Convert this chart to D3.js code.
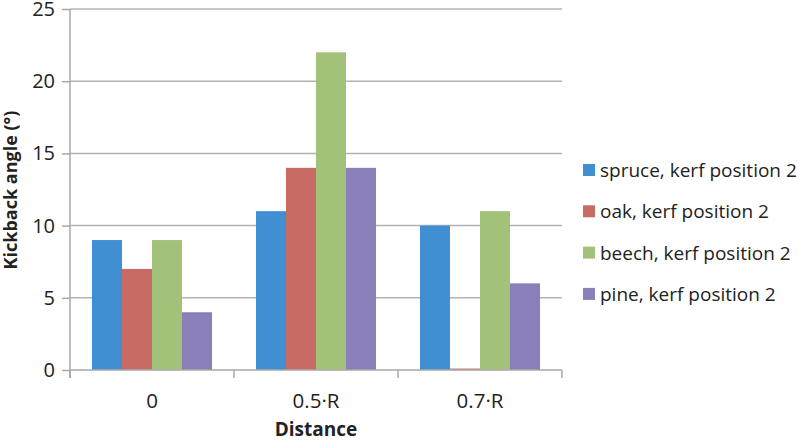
<!DOCTYPE html>
<html><head><meta charset="utf-8">
<script src="https://cdn.jsdelivr.net/npm/d3@7"></script>
<style>body{margin:0;background:#fff}svg{display:block}text{font-family:"Open Sans",sans-serif;fill:#222}</style>
</head><body><svg id="c" width="799" height="440"></svg>
<script>
const categories = ["0", "0.5·R", "0.7·R"];
const seriesNames = ["spruce, kerf position 2", "oak, kerf position 2", "beech, kerf position 2", "pine, kerf position 2"];
const spruce = [9, 11, 10];
const oak = [7, 14, 0.1];
const beech = [9, 22, 11];
const pine = [4, 14, 6];
const yTicks = [0, 5, 10, 15, 20, 25];
const colors = ["#418fd3", "#c86b64", "#a2c279", "#8a7fb8"];
const seriesValues = [spruce, oak, beech, pine];

const svg = d3.select("#c");
const L = 70, R = 562, T = 9, B = 370;
const x0 = d3.scaleBand().domain(categories).range([L, R]).padding(0);
const bw = x0.bandwidth();
const gap = bw * 0.134;
const x1 = d3.scaleBand().domain(seriesNames).range([gap, bw - gap]).padding(0);
const y = d3.scaleLinear().domain([0, 25]).range([B, T]);

// gridlines
svg.append("g").selectAll("line").data(yTicks.filter(d => d > 0)).join("line")
  .attr("x1", L).attr("x2", R).attr("y1", d => y(d)).attr("y2", d => y(d))
  .attr("stroke", "#b3b3b3").attr("stroke-width", 1.5);

// bars
const g = svg.append("g");
seriesNames.forEach((s, si) => {
  g.append("g").selectAll("rect").data(categories).join("rect")
    .attr("x", (c) => x0(c) + x1(s))
    .attr("width", x1.bandwidth())
    .attr("y", (c, i) => y(seriesValues[si][i]))
    .attr("height", (c, i) => y(0) - y(seriesValues[si][i]))
    .attr("fill", colors[si]);
});

// y axis
const yAxis = d3.axisLeft(y).tickValues(yTicks).tickSize(8).tickPadding(7);
const ya = svg.append("g").attr("transform", `translate(${L},0)`).call(yAxis);
ya.select(".domain").attr("stroke", "#a8a8a8").attr("stroke-width", 1.5).attr("d", `M0,${T}V${B+8}`);
ya.selectAll(".tick line").attr("stroke", "#a8a8a8").attr("stroke-width", 1.5);
ya.selectAll(".tick text").attr("font-size", 20).attr("font-family", "Open Sans").attr("fill", "#222");

// x axis
const xa = svg.append("g").attr("transform", `translate(0,${B})`);
xa.append("line").attr("x1", L).attr("x2", R).attr("y1", 0).attr("y2", 0).attr("stroke", "#a8a8a8").attr("stroke-width", 1.5);
const bounds = categories.map(c => x0(c)).concat([R]);
xa.selectAll(".bt").data(bounds).join("line").attr("class", "bt")
  .attr("x1", d => d).attr("x2", d => d).attr("y1", 0).attr("y2", 8)
  .attr("stroke", "#a8a8a8").attr("stroke-width", 1.5);
xa.selectAll(".lbl").data(categories).join("text").attr("class", "lbl")
  .attr("x", d => x0(d) + bw / 2).attr("y", 38).attr("text-anchor", "middle")
  .attr("font-size", 20.5).text(d => d);

// axis titles
svg.append("text").attr("x", (L + R) / 2).attr("y", 436).attr("text-anchor", "middle")
  .attr("font-size", 19).attr("font-weight", "bold").text("Distance");
svg.append("text").attr("transform", `translate(17,190) rotate(-90)`)
  .attr("text-anchor", "middle").attr("font-size", 18).attr("font-weight", "bold").text("Kickback angle (°)");

// legend
const lg = svg.append("g");
seriesNames.forEach((s, i) => {
  const cy = 170 + i * 41.3;
  lg.append("rect").attr("x", 583).attr("y", cy - 6).attr("width", 12).attr("height", 12).attr("fill", colors[i]);
  lg.append("text").attr("x", 600).attr("y", cy + 7).attr("font-size", 19).text(s);
});
</script></body></html>
